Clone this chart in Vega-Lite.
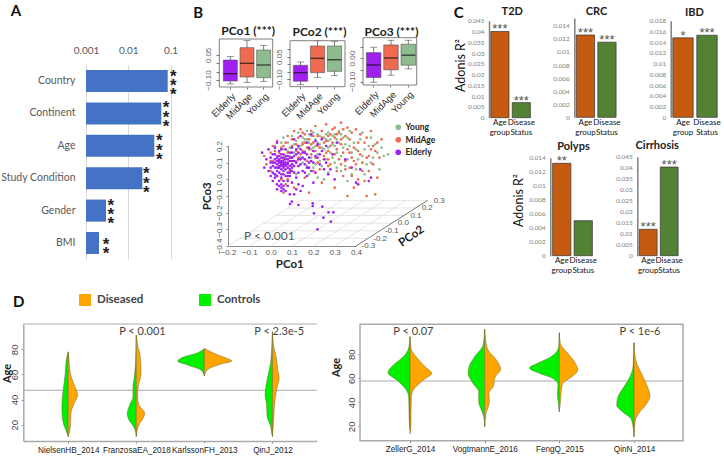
{"$schema":"https://vega.github.io/schema/vega-lite/v6.json","width":724,"height":463,"padding":0,"autosize":{"type":"none"},"background":"white",
"config":{"view":{"stroke":null},"axis":{"ticks":false,"domain":false,"grid":false,"labelFont":"Lato","titleFont":"Lato","labelOverlap":false,"labelBound":false,"labelFlush":false,"title":null},"text":{"font":"Lato"}},
"resolve":{"scale":{"x":"independent","y":"independent","color":"independent"},"axis":{"x":"independent","y":"independent"}},
"datasets":{
"variance":[{"factor":"Country","r2":0.0859,"base":0.001},{"factor":"Continent","r2":0.0606,"base":0.001},{"factor":"Age","r2":0.0414,"base":0.001},{"factor":"Study Condition","r2":0.0216,"base":0.001},{"factor":"Gender","r2":0.00297,"base":0.001},{"factor":"BMI","r2":0.00203,"base":0.001}],
"stars":[{"factor":"Country","pos":0.22,"v":0.1165},{"factor":"Country","pos":0.5,"v":0.1165},{"factor":"Country","pos":0.78,"v":0.1165},{"factor":"Continent","pos":1.18,"v":0.0782},{"factor":"Continent","pos":1.48,"v":0.0782},{"factor":"Continent","pos":1.77,"v":0.0782},{"factor":"Age","pos":2.21,"v":0.0543},{"factor":"Age","pos":2.5,"v":0.0543},{"factor":"Age","pos":2.78,"v":0.0543},{"factor":"Study Condition","pos":3.21,"v":0.0267},{"factor":"Study Condition","pos":3.51,"v":0.0267},{"factor":"Study Condition","pos":3.8,"v":0.0267},{"factor":"Gender","pos":4.19,"v":0.00384},{"factor":"Gender","pos":4.48,"v":0.00384},{"factor":"Gender","pos":4.77,"v":0.00384},{"factor":"BMI","pos":5.41,"v":0.00297},{"factor":"BMI","pos":5.69,"v":0.00297}],
"box1":[{"age":"Elderly","wb":-0.124,"q1":-0.106,"med":-0.062,"q3":0.02,"wt":0.04},{"age":"MidAge","wb":-0.114,"q1":-0.082,"med":0.0,"q3":0.094,"wt":0.136},{"age":"Young","wb":-0.108,"q1":-0.086,"med":-0.01,"q3":0.08,"wt":0.108}],
"box2":[{"age":"Elderly","wb":-0.136,"q1":-0.113,"med":-0.056,"q3":-0.007,"wt":0.015},{"age":"MidAge","wb":-0.087,"q1":-0.056,"med":0.039,"q3":0.121,"wt":0.156},{"age":"Young","wb":-0.074,"q1":-0.047,"med":0.03,"q3":0.121,"wt":0.152}],
"box3":[{"age":"Elderly","wb":-0.103,"q1":-0.083,"med":-0.029,"q3":0.024,"wt":0.047},{"age":"MidAge","wb":-0.073,"q1":-0.05,"med":0.001,"q3":0.057,"wt":0.077},{"age":"Young","wb":-0.046,"q1":-0.03,"med":0.013,"q3":0.06,"wt":0.077}],
"frame":[{"a":0,"b":1,"c":0,"d":1}],
"floor":[{"x":-0.2,"y":-0.4,"x2":0.136,"y2":-0.126},{"x":-0.1,"y":-0.4,"x2":0.236,"y2":-0.126},{"x":0.0,"y":-0.4,"x2":0.336,"y2":-0.126},{"x":0.1,"y":-0.4,"x2":0.436,"y2":-0.126},{"x":0.2,"y":-0.4,"x2":0.536,"y2":-0.126},{"x":0.3,"y":-0.4,"x2":0.636,"y2":-0.126},{"x":-0.144,"y":-0.354,"x2":0.456,"y2":-0.354},{"x":-0.088,"y":-0.309,"x2":0.512,"y2":-0.309},{"x":-0.032,"y":-0.263,"x2":0.568,"y2":-0.263},{"x":0.024,"y":-0.217,"x2":0.624,"y2":-0.217},{"x":0.08,"y":-0.172,"x2":0.68,"y2":-0.172},{"x":0.136,"y":-0.126,"x2":0.736,"y2":-0.126}],
"pco2axis":[{"x":0.4,"y":-0.4,"x2":0.736,"y2":-0.126}],
"pco2labels":[{"label":"-0.3","x":0.458,"y":-0.4},{"label":"-0.2","x":0.513,"y":-0.358},{"label":"-0.1","x":0.568,"y":-0.308},{"label":"0.0","x":0.622,"y":-0.262},{"label":"0.1","x":0.681,"y":-0.218},{"label":"0.2","x":0.734,"y":-0.172},{"label":"0.3","x":0.79,"y":-0.129}],
"scatter":[
{"g":"Young","x":0.02,"y":0.2},{"g":"Young","x":0.04,"y":0.17},{"g":"Young","x":0.06,"y":0.25},{"g":"Young","x":0.07,"y":0.13},{"g":"Young","x":0.08,"y":0.22},{"g":"Young","x":0.09,"y":0.19},{"g":"Young","x":0.1,"y":0.26},{"g":"Young","x":0.11,"y":0.16},{"g":"Young","x":0.12,"y":0.23},{"g":"Young","x":0.13,"y":0.28},{"g":"Young","x":0.14,"y":0.2},{"g":"Young","x":0.15,"y":0.25},{"g":"Young","x":0.16,"y":0.17},{"g":"Young","x":0.17,"y":0.29},{"g":"Young","x":0.18,"y":0.22},{"g":"Young","x":0.19,"y":0.26},{"g":"Young","x":0.2,"y":0.19},{"g":"Young","x":0.2,"y":0.28},{"g":"Young","x":0.21,"y":0.24},{"g":"Young","x":0.22,"y":0.15},{"g":"Young","x":0.22,"y":0.27},{"g":"Young","x":0.23,"y":0.21},{"g":"Young","x":0.24,"y":0.29},{"g":"Young","x":0.25,"y":0.25},{"g":"Young","x":0.25,"y":0.18},{"g":"Young","x":0.26,"y":0.12},{"g":"Young","x":0.27,"y":0.23},{"g":"Young","x":0.27,"y":0.28},{"g":"Young","x":0.28,"y":0.16},{"g":"Young","x":0.29,"y":0.26},{"g":"Young","x":0.3,"y":0.2},{"g":"Young","x":0.3,"y":0.1},{"g":"Young","x":0.31,"y":0.24},{"g":"Young","x":0.32,"y":0.29},{"g":"Young","x":0.33,"y":0.14},{"g":"Young","x":0.34,"y":0.19},{"g":"Young","x":0.35,"y":0.08},{"g":"Young","x":0.36,"y":0.25},{"g":"Young","x":0.37,"y":0.29},{"g":"Young","x":0.38,"y":0.16},{"g":"Young","x":0.39,"y":0.22},{"g":"Young","x":0.4,"y":0.06},{"g":"Young","x":0.41,"y":0.12},{"g":"Young","x":0.42,"y":0.24},{"g":"Young","x":0.43,"y":0.28},{"g":"Young","x":0.44,"y":0.18},{"g":"Young","x":0.45,"y":0.09},{"g":"Young","x":0.46,"y":0.2},{"g":"Young","x":0.47,"y":0.25},{"g":"Young","x":0.48,"y":0.13},{"g":"Young","x":0.49,"y":0.21},{"g":"Young","x":0.5,"y":0.16},{"g":"Young","x":0.51,"y":0.06},{"g":"Young","x":0.52,"y":0.19},{"g":"Young","x":0.53,"y":0.14},{"g":"Young","x":0.55,"y":0.15},{"g":"Young","x":0.2,"y":0.07},{"g":"Young","x":0.22,"y":0.01},{"g":"Young","x":0.25,"y":0.0},{"g":"Young","x":0.18,"y":0.03},{"g":"Young","x":0.27,"y":0.04},{"g":"Young","x":0.33,"y":0.05},{"g":"Young","x":0.36,"y":-0.01},{"g":"Young","x":0.29,"y":0.13},{"g":"Young","x":0.15,"y":0.1},{"g":"Young","x":0.1,"y":0.09},{"g":"Young","x":0.03,"y":0.11},{"g":"Young","x":0.12,"y":0.03},{"g":"Young","x":0.23,"y":0.11},{"g":"Young","x":0.31,"y":0.07},{"g":"Young","x":0.38,"y":0.03},{"g":"Young","x":0.44,"y":0.03},{"g":"Young","x":0.16,"y":0.24},{"g":"Young","x":0.26,"y":0.27},{"g":"Young","x":0.33,"y":0.27},{"g":"Young","x":0.35,"y":0.21},{"g":"Young","x":0.19,"y":0.13},{"g":"Young","x":0.24,"y":0.08},
{"g":"Young","x":0.05,"y":0.22},{"g":"Young","x":0.08,"y":0.17},{"g":"Young","x":0.11,"y":0.21},{"g":"Young","x":0.13,"y":0.19},{"g":"Young","x":0.15,"y":0.22},{"g":"Young","x":0.17,"y":0.24},{"g":"Young","x":0.18,"y":0.27},{"g":"Young","x":0.19,"y":0.18},{"g":"Young","x":0.21,"y":0.2},{"g":"Young","x":0.22,"y":0.22},{"g":"Young","x":0.23,"y":0.26},{"g":"Young","x":0.24,"y":0.19},{"g":"Young","x":0.26,"y":0.24},{"g":"Young","x":0.27,"y":0.19},{"g":"Young","x":0.28,"y":0.24},{"g":"Young","x":0.29,"y":0.21},{"g":"Young","x":0.3,"y":0.27},{"g":"Young","x":0.31,"y":0.16},{"g":"Young","x":0.32,"y":0.22},{"g":"Young","x":0.34,"y":0.25},{"g":"Young","x":0.36,"y":0.12},{"g":"Young","x":0.37,"y":0.2},{"g":"Young","x":0.4,"y":0.18},{"g":"Young","x":0.43,"y":0.14},{"g":"Young","x":0.47,"y":0.1},{"g":"Young","x":0.09,"y":0.14},{"g":"Young","x":0.06,"y":0.18},{"g":"Young","x":0.14,"y":0.13},{"g":"Young","x":0.17,"y":0.08},{"g":"Young","x":0.21,"y":0.09},
{"g":"MidAge","x":-0.03,"y":0.14},{"g":"MidAge","x":-0.02,"y":0.09},{"g":"MidAge","x":0.0,"y":0.16},{"g":"MidAge","x":0.0,"y":0.05},{"g":"MidAge","x":0.01,"y":0.2},{"g":"MidAge","x":0.01,"y":0.11},{"g":"MidAge","x":0.02,"y":0.03},{"g":"MidAge","x":0.03,"y":0.23},{"g":"MidAge","x":0.03,"y":0.14},{"g":"MidAge","x":0.04,"y":0.07},{"g":"MidAge","x":0.05,"y":0.19},{"g":"MidAge","x":0.05,"y":0.0},{"g":"MidAge","x":0.06,"y":0.12},{"g":"MidAge","x":0.07,"y":0.22},{"g":"MidAge","x":0.07,"y":-0.03},{"g":"MidAge","x":0.08,"y":0.16},{"g":"MidAge","x":0.08,"y":0.26},{"g":"MidAge","x":0.09,"y":0.05},{"g":"MidAge","x":0.1,"y":0.2},{"g":"MidAge","x":0.1,"y":0.13},{"g":"MidAge","x":0.11,"y":0.29},{"g":"MidAge","x":0.11,"y":-0.05},{"g":"MidAge","x":0.12,"y":0.17},{"g":"MidAge","x":0.13,"y":0.25},{"g":"MidAge","x":0.13,"y":0.08},{"g":"MidAge","x":0.14,"y":0.3},{"g":"MidAge","x":0.14,"y":0.15},{"g":"MidAge","x":0.15,"y":0.21},{"g":"MidAge","x":0.16,"y":0.27},{"g":"MidAge","x":0.16,"y":0.01},{"g":"MidAge","x":0.17,"y":0.19},{"g":"MidAge","x":0.17,"y":0.11},{"g":"MidAge","x":0.18,"y":0.24},{"g":"MidAge","x":0.19,"y":0.29},{"g":"MidAge","x":0.19,"y":0.15},{"g":"MidAge","x":0.2,"y":0.22},{"g":"MidAge","x":0.21,"y":0.17},{"g":"MidAge","x":0.21,"y":0.32},{"g":"MidAge","x":0.22,"y":0.26},{"g":"MidAge","x":0.23,"y":0.19},{"g":"MidAge","x":0.23,"y":0.06},{"g":"MidAge","x":0.24,"y":0.29},{"g":"MidAge","x":0.25,"y":0.22},{"g":"MidAge","x":0.26,"y":0.16},{"g":"MidAge","x":0.26,"y":0.33},{"g":"MidAge","x":0.27,"y":0.26},{"g":"MidAge","x":0.28,"y":0.2},{"g":"MidAge","x":0.28,"y":0.09},{"g":"MidAge","x":0.29,"y":0.3},{"g":"MidAge","x":0.3,"y":0.25},{"g":"MidAge","x":0.3,"y":0.15},{"g":"MidAge","x":0.31,"y":0.18},{"g":"MidAge","x":0.31,"y":0.05},{"g":"MidAge","x":0.32,"y":0.28},{"g":"MidAge","x":0.32,"y":0.12},{"g":"MidAge","x":0.33,"y":0.21},{"g":"MidAge","x":0.33,"y":0.34},{"g":"MidAge","x":0.34,"y":0.16},{"g":"MidAge","x":0.34,"y":0.02},{"g":"MidAge","x":0.35,"y":0.26},{"g":"MidAge","x":0.35,"y":0.11},{"g":"MidAge","x":0.36,"y":0.31},{"g":"MidAge","x":0.36,"y":0.18},{"g":"MidAge","x":0.37,"y":0.07},{"g":"MidAge","x":0.37,"y":0.24},{"g":"MidAge","x":0.38,"y":0.13},{"g":"MidAge","x":0.38,"y":0.28},{"g":"MidAge","x":0.39,"y":0.19},{"g":"MidAge","x":0.39,"y":-0.05},{"g":"MidAge","x":0.4,"y":0.3},{"g":"MidAge","x":0.4,"y":0.09},{"g":"MidAge","x":0.41,"y":0.22},{"g":"MidAge","x":0.41,"y":0.0},{"g":"MidAge","x":0.42,"y":0.15},{"g":"MidAge","x":0.42,"y":0.27},{"g":"MidAge","x":0.43,"y":0.1},{"g":"MidAge","x":0.44,"y":0.22},{"g":"MidAge","x":0.44,"y":-0.01},{"g":"MidAge","x":0.45,"y":0.25},{"g":"MidAge","x":0.45,"y":0.13},{"g":"MidAge","x":0.46,"y":0.05},{"g":"MidAge","x":0.47,"y":0.18},{"g":"MidAge","x":0.47,"y":0.29},{"g":"MidAge","x":0.48,"y":0.09},{"g":"MidAge","x":0.49,"y":0.17},{"g":"MidAge","x":0.49,"y":-0.09},{"g":"MidAge","x":0.5,"y":0.22},{"g":"MidAge","x":0.5,"y":0.01},{"g":"MidAge","x":0.51,"y":0.13},{"g":"MidAge","x":0.52,"y":0.24},{"g":"MidAge","x":0.45,"y":-0.1},{"g":"MidAge","x":0.36,"y":-0.1},{"g":"MidAge","x":0.3,"y":-0.05},{"g":"MidAge","x":0.24,"y":-0.02},{"g":"MidAge","x":0.18,"y":-0.08},{"g":"MidAge","x":0.06,"y":-0.08},{"g":"MidAge","x":0.27,"y":0.12},{"g":"MidAge","x":0.22,"y":0.1},
{"g":"MidAge","x":0.04,"y":0.16},{"g":"MidAge","x":0.06,"y":0.2},{"g":"MidAge","x":0.09,"y":0.11},{"g":"MidAge","x":0.1,"y":0.24},{"g":"MidAge","x":0.12,"y":0.21},{"g":"MidAge","x":0.13,"y":0.13},{"g":"MidAge","x":0.15,"y":0.17},{"g":"MidAge","x":0.16,"y":0.22},{"g":"MidAge","x":0.18,"y":0.18},{"g":"MidAge","x":0.19,"y":0.21},{"g":"MidAge","x":0.2,"y":0.26},{"g":"MidAge","x":0.21,"y":0.13},{"g":"MidAge","x":0.22,"y":0.2},{"g":"MidAge","x":0.24,"y":0.25},{"g":"MidAge","x":0.25,"y":0.14},{"g":"MidAge","x":0.26,"y":0.23},{"g":"MidAge","x":0.27,"y":0.17},{"g":"MidAge","x":0.28,"y":0.27},{"g":"MidAge","x":0.29,"y":0.22},{"g":"MidAge","x":0.3,"y":0.31},{"g":"MidAge","x":0.31,"y":0.27},{"g":"MidAge","x":0.33,"y":0.24},{"g":"MidAge","x":0.34,"y":0.3},{"g":"MidAge","x":0.35,"y":0.06},{"g":"MidAge","x":0.37,"y":0.16},{"g":"MidAge","x":0.39,"y":0.11},{"g":"MidAge","x":0.41,"y":0.17},{"g":"MidAge","x":0.43,"y":0.05},{"g":"MidAge","x":0.46,"y":0.14},{"g":"MidAge","x":0.48,"y":0.2},{"g":"MidAge","x":0.02,"y":0.17},{"g":"MidAge","x":0.0,"y":0.11},{"g":"MidAge","x":0.03,"y":0.02},{"g":"MidAge","x":0.08,"y":0.0},{"g":"MidAge","x":0.12,"y":0.11},{"g":"MidAge","x":0.15,"y":0.28},{"g":"MidAge","x":0.2,"y":0.05},{"g":"MidAge","x":0.27,"y":0.08},{"g":"MidAge","x":0.33,"y":0.09},{"g":"MidAge","x":0.38,"y":0.02},
{"g":"Elderly","x":0.01,"y":0.1},{"g":"Elderly","x":0.02,"y":0.07},{"g":"Elderly","x":0.02,"y":0.12},{"g":"Elderly","x":0.03,"y":0.09},{"g":"Elderly","x":0.03,"y":0.05},{"g":"Elderly","x":0.03,"y":0.13},{"g":"Elderly","x":0.04,"y":0.1},{"g":"Elderly","x":0.04,"y":0.07},{"g":"Elderly","x":0.04,"y":0.14},{"g":"Elderly","x":0.05,"y":0.09},{"g":"Elderly","x":0.05,"y":0.06},{"g":"Elderly","x":0.05,"y":0.11},{"g":"Elderly","x":0.05,"y":0.03},{"g":"Elderly","x":0.05,"y":0.15},{"g":"Elderly","x":0.06,"y":0.08},{"g":"Elderly","x":0.06,"y":0.1},{"g":"Elderly","x":0.06,"y":0.05},{"g":"Elderly","x":0.06,"y":0.13},{"g":"Elderly","x":0.07,"y":0.09},{"g":"Elderly","x":0.07,"y":0.12},{"g":"Elderly","x":0.07,"y":0.06},{"g":"Elderly","x":0.07,"y":0.02},{"g":"Elderly","x":0.08,"y":0.1},{"g":"Elderly","x":0.08,"y":0.07},{"g":"Elderly","x":0.08,"y":0.14},{"g":"Elderly","x":0.08,"y":0.04},{"g":"Elderly","x":0.09,"y":0.11},{"g":"Elderly","x":0.09,"y":0.08},{"g":"Elderly","x":0.09,"y":0.16},{"g":"Elderly","x":0.1,"y":0.05},{"g":"Elderly","x":0.1,"y":0.13},{"g":"Elderly","x":0.1,"y":0.09},{"g":"Elderly","x":0.04,"y":0.08},{"g":"Elderly","x":0.05,"y":0.08},{"g":"Elderly","x":0.06,"y":0.07},{"g":"Elderly","x":0.05,"y":0.1},{"g":"Elderly","x":0.06,"y":0.09},{"g":"Elderly","x":0.04,"y":0.11},{"g":"Elderly","x":0.07,"y":0.1},{"g":"Elderly","x":0.03,"y":0.07},
{"g":"Elderly","x":-0.04,"y":0.16},{"g":"Elderly","x":-0.03,"y":0.07},{"g":"Elderly","x":-0.02,"y":0.12},{"g":"Elderly","x":-0.01,"y":0.05},{"g":"Elderly","x":-0.01,"y":0.18},{"g":"Elderly","x":0.0,"y":0.02},{"g":"Elderly","x":0.0,"y":0.1},{"g":"Elderly","x":0.01,"y":0.15},{"g":"Elderly","x":0.01,"y":-0.01},{"g":"Elderly","x":0.02,"y":0.03},{"g":"Elderly","x":0.02,"y":0.19},{"g":"Elderly","x":0.03,"y":-0.03},{"g":"Elderly","x":0.03,"y":0.22},{"g":"Elderly","x":0.04,"y":-0.01},{"g":"Elderly","x":0.05,"y":-0.05},{"g":"Elderly","x":0.06,"y":-0.04},{"g":"Elderly","x":0.04,"y":-0.04},{"g":"Elderly","x":0.05,"y":-0.03},{"g":"Elderly","x":0.07,"y":-0.07},{"g":"Elderly","x":0.08,"y":-0.01},{"g":"Elderly","x":0.09,"y":-0.09},{"g":"Elderly","x":0.09,"y":0.02},{"g":"Elderly","x":0.1,"y":0.19},{"g":"Elderly","x":0.11,"y":0.24},{"g":"Elderly","x":0.11,"y":0.11},{"g":"Elderly","x":0.12,"y":0.01},{"g":"Elderly","x":0.12,"y":0.15},{"g":"Elderly","x":0.12,"y":-0.06},{"g":"Elderly","x":0.13,"y":0.08},{"g":"Elderly","x":0.13,"y":0.2},{"g":"Elderly","x":0.14,"y":0.26},{"g":"Elderly","x":0.14,"y":0.12},{"g":"Elderly","x":0.15,"y":0.05},{"g":"Elderly","x":0.15,"y":-0.04},{"g":"Elderly","x":0.16,"y":0.09},{"g":"Elderly","x":0.16,"y":0.16},{"g":"Elderly","x":0.17,"y":0.22},{"g":"Elderly","x":0.17,"y":0.02},{"g":"Elderly","x":0.18,"y":0.13},{"g":"Elderly","x":0.18,"y":0.07},{"g":"Elderly","x":0.19,"y":0.27},{"g":"Elderly","x":0.2,"y":0.17},{"g":"Elderly","x":0.2,"y":0.1},{"g":"Elderly","x":0.2,"y":-0.02},{"g":"Elderly","x":0.21,"y":0.04},{"g":"Elderly","x":0.22,"y":0.21},{"g":"Elderly","x":0.22,"y":0.13},{"g":"Elderly","x":0.23,"y":0.09},{"g":"Elderly","x":0.24,"y":0.17},{"g":"Elderly","x":0.25,"y":0.12},{"g":"Elderly","x":0.26,"y":0.2},{"g":"Elderly","x":0.27,"y":0.03},{"g":"Elderly","x":0.28,"y":0.06},{"g":"Elderly","x":0.29,"y":0.15},{"g":"Elderly","x":0.3,"y":0.0},{"g":"Elderly","x":0.31,"y":0.22},{"g":"Elderly","x":0.35,"y":0.12},{"g":"Elderly","x":0.38,"y":0.07},{"g":"Elderly","x":0.42,"y":0.06},{"g":"Elderly","x":0.47,"y":0.01},{"g":"Elderly","x":0.46,"y":-0.01},{"g":"Elderly","x":0.4,"y":-0.02},{"g":"Elderly","x":0.41,"y":-0.03},
{"g":"Elderly","x":0.0,"y":0.07},{"g":"Elderly","x":0.0,"y":0.13},{"g":"Elderly","x":0.01,"y":0.04},{"g":"Elderly","x":0.01,"y":0.08},{"g":"Elderly","x":0.02,"y":0.1},{"g":"Elderly","x":0.02,"y":0.15},{"g":"Elderly","x":0.02,"y":0.01},{"g":"Elderly","x":0.03,"y":0.11},{"g":"Elderly","x":0.03,"y":0.02},{"g":"Elderly","x":0.04,"y":0.04},{"g":"Elderly","x":0.04,"y":0.12},{"g":"Elderly","x":0.04,"y":0.17},{"g":"Elderly","x":0.05,"y":0.13},{"g":"Elderly","x":0.05,"y":0.01},{"g":"Elderly","x":0.05,"y":0.18},{"g":"Elderly","x":0.06,"y":0.11},{"g":"Elderly","x":0.06,"y":0.03},{"g":"Elderly","x":0.06,"y":0.15},{"g":"Elderly","x":0.07,"y":0.08},{"g":"Elderly","x":0.07,"y":0.14},{"g":"Elderly","x":0.07,"y":0.18},{"g":"Elderly","x":0.08,"y":0.12},{"g":"Elderly","x":0.08,"y":0.09},{"g":"Elderly","x":0.08,"y":0.02},{"g":"Elderly","x":0.09,"y":0.06},{"g":"Elderly","x":0.09,"y":0.13},{"g":"Elderly","x":0.09,"y":0.04},{"g":"Elderly","x":0.1,"y":0.11},{"g":"Elderly","x":0.1,"y":0.07},{"g":"Elderly","x":0.1,"y":0.16},{"g":"Elderly","x":0.11,"y":0.14},{"g":"Elderly","x":0.11,"y":0.08},{"g":"Elderly","x":0.11,"y":0.04},{"g":"Elderly","x":0.12,"y":0.1},{"g":"Elderly","x":0.12,"y":0.18},{"g":"Elderly","x":0.13,"y":0.12},{"g":"Elderly","x":0.13,"y":0.16},{"g":"Elderly","x":0.13,"y":0.04},{"g":"Elderly","x":0.14,"y":0.09},{"g":"Elderly","x":0.14,"y":0.18},{"g":"Elderly","x":0.15,"y":0.13},{"g":"Elderly","x":0.15,"y":0.16},{"g":"Elderly","x":0.16,"y":0.12},{"g":"Elderly","x":0.16,"y":0.04},{"g":"Elderly","x":0.17,"y":0.15},{"g":"Elderly","x":0.17,"y":0.07},{"g":"Elderly","x":0.18,"y":0.1},{"g":"Elderly","x":0.18,"y":0.19},{"g":"Elderly","x":0.19,"y":0.05},{"g":"Elderly","x":0.19,"y":0.11},{"g":"Elderly","x":0.21,"y":0.14},{"g":"Elderly","x":0.21,"y":0.23},{"g":"Elderly","x":0.23,"y":0.15},{"g":"Elderly","x":0.24,"y":0.24},{"g":"Elderly","x":0.25,"y":0.06},{"g":"Elderly","x":0.26,"y":0.1},{"g":"Elderly","x":0.06,"y":-0.01},{"g":"Elderly","x":0.08,"y":-0.04},{"g":"Elderly","x":0.03,"y":-0.06},{"g":"Elderly","x":0.05,"y":-0.07},{"g":"Elderly","x":0.06,"y":-0.06},{"g":"Elderly","x":0.1,"y":-0.02},{"g":"Elderly","x":0.11,"y":-0.09},{"g":"Elderly","x":0.13,"y":-0.03},{"g":"Elderly","x":0.14,"y":-0.07},
{"g":"Elderly","x":0.099,"y":-0.134},{"g":"Elderly","x":0.091,"y":-0.148},{"g":"Elderly","x":0.13,"y":-0.154},{"g":"Elderly","x":0.197,"y":-0.144},{"g":"Elderly","x":0.197,"y":-0.16},{"g":"Elderly","x":0.242,"y":-0.164},{"g":"Elderly","x":0.203,"y":-0.204},{"g":"Elderly","x":0.271,"y":-0.198},{"g":"Elderly","x":0.294,"y":-0.198},{"g":"Elderly","x":0.247,"y":-0.23},{"g":"Elderly","x":0.282,"y":-0.254},{"g":"Elderly","x":0.219,"y":-0.3}],
"violinL":[
{"study":"NielsenHB_2014","group":"Controls","i":0,"age":78,"x":0},{"study":"NielsenHB_2014","group":"Controls","i":0,"age":71.5,"x":-0.029},{"study":"NielsenHB_2014","group":"Controls","i":0,"age":60.8,"x":-0.044},{"study":"NielsenHB_2014","group":"Controls","i":0,"age":47.6,"x":-0.074},{"study":"NielsenHB_2014","group":"Controls","i":0,"age":34.3,"x":-0.093},{"study":"NielsenHB_2014","group":"Controls","i":0,"age":26.4,"x":-0.088},{"study":"NielsenHB_2014","group":"Controls","i":0,"age":19.7,"x":-0.064},{"study":"NielsenHB_2014","group":"Controls","i":0,"age":14.4,"x":-0.025},{"study":"NielsenHB_2014","group":"Controls","i":0,"age":10.5,"x":0},
{"study":"NielsenHB_2014","group":"Diseased","i":0,"age":78,"x":0},{"study":"NielsenHB_2014","group":"Diseased","i":0,"age":68.8,"x":0.015},{"study":"NielsenHB_2014","group":"Diseased","i":0,"age":58.2,"x":0.044},{"study":"NielsenHB_2014","group":"Diseased","i":0,"age":50.2,"x":0.098},{"study":"NielsenHB_2014","group":"Diseased","i":0,"age":43.6,"x":0.137},{"study":"NielsenHB_2014","group":"Diseased","i":0,"age":37,"x":0.088},{"study":"NielsenHB_2014","group":"Diseased","i":0,"age":29,"x":0.039},{"study":"NielsenHB_2014","group":"Diseased","i":0,"age":21,"x":0.034},{"study":"NielsenHB_2014","group":"Diseased","i":0,"age":14.4,"x":0.02},{"study":"NielsenHB_2014","group":"Diseased","i":0,"age":10.5,"x":0},
{"study":"FranzosaEA_2018","group":"Controls","i":1,"age":91.4,"x":1},{"study":"FranzosaEA_2018","group":"Controls","i":1,"age":79.4,"x":0.995},{"study":"FranzosaEA_2018","group":"Controls","i":1,"age":66.2,"x":0.985},{"study":"FranzosaEA_2018","group":"Controls","i":1,"age":58.2,"x":0.971},{"study":"FranzosaEA_2018","group":"Controls","i":1,"age":50.2,"x":0.951},{"study":"FranzosaEA_2018","group":"Controls","i":1,"age":42.3,"x":0.951},{"study":"FranzosaEA_2018","group":"Controls","i":1,"age":35.6,"x":0.902},{"study":"FranzosaEA_2018","group":"Controls","i":1,"age":29,"x":0.868},{"study":"FranzosaEA_2018","group":"Controls","i":1,"age":23.7,"x":0.892},{"study":"FranzosaEA_2018","group":"Controls","i":1,"age":18.4,"x":0.961},{"study":"FranzosaEA_2018","group":"Controls","i":1,"age":14.4,"x":0.99},{"study":"FranzosaEA_2018","group":"Controls","i":1,"age":10.5,"x":1},
{"study":"FranzosaEA_2018","group":"Diseased","i":1,"age":91.4,"x":1},{"study":"FranzosaEA_2018","group":"Diseased","i":1,"age":82,"x":1.025},{"study":"FranzosaEA_2018","group":"Diseased","i":1,"age":74.1,"x":1.059},{"study":"FranzosaEA_2018","group":"Diseased","i":1,"age":60.8,"x":1.069},{"study":"FranzosaEA_2018","group":"Diseased","i":1,"age":50.2,"x":1.029},{"study":"FranzosaEA_2018","group":"Diseased","i":1,"age":42.3,"x":1.02},{"study":"FranzosaEA_2018","group":"Diseased","i":1,"age":35.6,"x":1.039},{"study":"FranzosaEA_2018","group":"Diseased","i":1,"age":29,"x":1.123},{"study":"FranzosaEA_2018","group":"Diseased","i":1,"age":25,"x":1.098},{"study":"FranzosaEA_2018","group":"Diseased","i":1,"age":21,"x":1.049},{"study":"FranzosaEA_2018","group":"Diseased","i":1,"age":15.8,"x":1.015},{"study":"FranzosaEA_2018","group":"Diseased","i":1,"age":10.5,"x":1},
{"study":"KarlssonFH_2013","group":"Controls","i":2,"age":80.7,"x":2},{"study":"KarlssonFH_2013","group":"Controls","i":2,"age":76.8,"x":1.877},{"study":"KarlssonFH_2013","group":"Controls","i":2,"age":74.1,"x":1.706},{"study":"KarlssonFH_2013","group":"Controls","i":2,"age":70.7,"x":1.608},{"study":"KarlssonFH_2013","group":"Controls","i":2,"age":67.5,"x":1.755},{"study":"KarlssonFH_2013","group":"Controls","i":2,"age":63.5,"x":1.951},{"study":"KarlssonFH_2013","group":"Controls","i":2,"age":58.7,"x":2},
{"study":"KarlssonFH_2013","group":"Diseased","i":2,"age":80.7,"x":2},{"study":"KarlssonFH_2013","group":"Diseased","i":2,"age":76.8,"x":2.147},{"study":"KarlssonFH_2013","group":"Diseased","i":2,"age":74.1,"x":2.27},{"study":"KarlssonFH_2013","group":"Diseased","i":2,"age":70.7,"x":2.402},{"study":"KarlssonFH_2013","group":"Diseased","i":2,"age":68.3,"x":2.245},{"study":"KarlssonFH_2013","group":"Diseased","i":2,"age":63.5,"x":2.039},{"study":"KarlssonFH_2013","group":"Diseased","i":2,"age":58.7,"x":2},
{"study":"QinJ_2012","group":"Controls","i":3,"age":94,"x":3},{"study":"QinJ_2012","group":"Controls","i":3,"age":82,"x":2.99},{"study":"QinJ_2012","group":"Controls","i":3,"age":68.8,"x":2.971},{"study":"QinJ_2012","group":"Controls","i":3,"age":58.2,"x":2.931},{"study":"QinJ_2012","group":"Controls","i":3,"age":43.6,"x":2.892},{"study":"QinJ_2012","group":"Controls","i":3,"age":37,"x":2.912},{"study":"QinJ_2012","group":"Controls","i":3,"age":26.4,"x":2.922},{"study":"QinJ_2012","group":"Controls","i":3,"age":18.4,"x":2.975},{"study":"QinJ_2012","group":"Controls","i":3,"age":14.4,"x":2.985},{"study":"QinJ_2012","group":"Controls","i":3,"age":10.5,"x":3},
{"study":"QinJ_2012","group":"Diseased","i":3,"age":94,"x":3},{"study":"QinJ_2012","group":"Diseased","i":3,"age":82,"x":3.02},{"study":"QinJ_2012","group":"Diseased","i":3,"age":74.1,"x":3.054},{"study":"QinJ_2012","group":"Diseased","i":3,"age":64.8,"x":3.074},{"study":"QinJ_2012","group":"Diseased","i":3,"age":56.9,"x":3.098},{"study":"QinJ_2012","group":"Diseased","i":3,"age":47.6,"x":3.059},{"study":"QinJ_2012","group":"Diseased","i":3,"age":34.3,"x":3.029},{"study":"QinJ_2012","group":"Diseased","i":3,"age":21,"x":3.015},{"study":"QinJ_2012","group":"Diseased","i":3,"age":10.5,"x":3}],
"violinR":[
{"study":"ZellerG_2014","group":"Controls","i":0,"age":94.7,"x":0},{"study":"ZellerG_2014","group":"Controls","i":0,"age":86.4,"x":-0.013},{"study":"ZellerG_2014","group":"Controls","i":0,"age":78,"x":-0.089},{"study":"ZellerG_2014","group":"Controls","i":0,"age":71.1,"x":-0.223},{"study":"ZellerG_2014","group":"Controls","i":0,"age":64.7,"x":-0.295},{"study":"ZellerG_2014","group":"Controls","i":0,"age":58.6,"x":-0.179},{"study":"ZellerG_2014","group":"Controls","i":0,"age":51.7,"x":-0.067},{"study":"ZellerG_2014","group":"Controls","i":0,"age":44.7,"x":-0.018},{"study":"ZellerG_2014","group":"Controls","i":0,"age":30.8,"x":-0.013},{"study":"ZellerG_2014","group":"Controls","i":0,"age":22.5,"x":-0.009},{"study":"ZellerG_2014","group":"Controls","i":0,"age":16.9,"x":0},
{"study":"ZellerG_2014","group":"Diseased","i":0,"age":94.7,"x":0},{"study":"ZellerG_2014","group":"Diseased","i":0,"age":85,"x":0.013},{"study":"ZellerG_2014","group":"Diseased","i":0,"age":76.7,"x":0.098},{"study":"ZellerG_2014","group":"Diseased","i":0,"age":69.7,"x":0.201},{"study":"ZellerG_2014","group":"Diseased","i":0,"age":64.2,"x":0.29},{"study":"ZellerG_2014","group":"Diseased","i":0,"age":58.6,"x":0.179},{"study":"ZellerG_2014","group":"Diseased","i":0,"age":50.3,"x":0.045},{"study":"ZellerG_2014","group":"Diseased","i":0,"age":44.7,"x":0.018},{"study":"ZellerG_2014","group":"Diseased","i":0,"age":30.8,"x":0.013},{"study":"ZellerG_2014","group":"Diseased","i":0,"age":22.5,"x":0.013},{"study":"ZellerG_2014","group":"Diseased","i":0,"age":13.6,"x":0},
{"study":"VogtmannE_2016","group":"Controls","i":1,"age":100.8,"x":1},{"study":"VogtmannE_2016","group":"Controls","i":1,"age":87.8,"x":0.978},{"study":"VogtmannE_2016","group":"Controls","i":1,"age":78,"x":0.866},{"study":"VogtmannE_2016","group":"Controls","i":1,"age":71.1,"x":0.799},{"study":"VogtmannE_2016","group":"Controls","i":1,"age":64.2,"x":0.777},{"study":"VogtmannE_2016","group":"Controls","i":1,"age":55.8,"x":0.844},{"study":"VogtmannE_2016","group":"Controls","i":1,"age":48.9,"x":0.92},{"study":"VogtmannE_2016","group":"Controls","i":1,"age":40.6,"x":0.92},{"study":"VogtmannE_2016","group":"Controls","i":1,"age":33.6,"x":0.955},{"study":"VogtmannE_2016","group":"Controls","i":1,"age":28,"x":0.987},{"study":"VogtmannE_2016","group":"Controls","i":1,"age":19.7,"x":1},
{"study":"VogtmannE_2016","group":"Diseased","i":1,"age":100.8,"x":1},{"study":"VogtmannE_2016","group":"Diseased","i":1,"age":91.9,"x":1.013},{"study":"VogtmannE_2016","group":"Diseased","i":1,"age":83.6,"x":1.045},{"study":"VogtmannE_2016","group":"Diseased","i":1,"age":75.3,"x":1.156},{"study":"VogtmannE_2016","group":"Diseased","i":1,"age":67.5,"x":1.214},{"study":"VogtmannE_2016","group":"Diseased","i":1,"age":61.4,"x":1.143},{"study":"VogtmannE_2016","group":"Diseased","i":1,"age":53,"x":1.112},{"study":"VogtmannE_2016","group":"Diseased","i":1,"age":47.5,"x":1.054},{"study":"VogtmannE_2016","group":"Diseased","i":1,"age":41.9,"x":1.063},{"study":"VogtmannE_2016","group":"Diseased","i":1,"age":37.8,"x":1.054},{"study":"VogtmannE_2016","group":"Diseased","i":1,"age":30.8,"x":1.018},{"study":"VogtmannE_2016","group":"Diseased","i":1,"age":19.7,"x":1},
{"study":"FengQ_2015","group":"Controls","i":2,"age":98,"x":2},{"study":"FengQ_2015","group":"Controls","i":2,"age":86.4,"x":1.991},{"study":"FengQ_2015","group":"Controls","i":2,"age":78,"x":1.888},{"study":"FengQ_2015","group":"Controls","i":2,"age":72.5,"x":1.71},{"study":"FengQ_2015","group":"Controls","i":2,"age":68.6,"x":1.598},{"study":"FengQ_2015","group":"Controls","i":2,"age":64.2,"x":1.732},{"study":"FengQ_2015","group":"Controls","i":2,"age":60,"x":1.911},{"study":"FengQ_2015","group":"Controls","i":2,"age":54.4,"x":1.982},{"study":"FengQ_2015","group":"Controls","i":2,"age":47.5,"x":1.973},{"study":"FengQ_2015","group":"Controls","i":2,"age":39.2,"x":1.987},{"study":"FengQ_2015","group":"Controls","i":2,"age":32.2,"x":2},
{"study":"FengQ_2015","group":"Diseased","i":2,"age":98,"x":2},{"study":"FengQ_2015","group":"Diseased","i":2,"age":89.2,"x":2.013},{"study":"FengQ_2015","group":"Diseased","i":2,"age":80.8,"x":2.112},{"study":"FengQ_2015","group":"Diseased","i":2,"age":73.9,"x":2.201},{"study":"FengQ_2015","group":"Diseased","i":2,"age":66.9,"x":2.246},{"study":"FengQ_2015","group":"Diseased","i":2,"age":61.4,"x":2.17},{"study":"FengQ_2015","group":"Diseased","i":2,"age":55.8,"x":2.045},{"study":"FengQ_2015","group":"Diseased","i":2,"age":47.5,"x":2.022},{"study":"FengQ_2015","group":"Diseased","i":2,"age":39.2,"x":2.013},{"study":"FengQ_2015","group":"Diseased","i":2,"age":32.2,"x":2},
{"study":"QinN_2014","group":"Controls","i":3,"age":89.7,"x":3},{"study":"QinN_2014","group":"Controls","i":3,"age":69.7,"x":2.987},{"study":"QinN_2014","group":"Controls","i":3,"age":61.4,"x":2.946},{"study":"QinN_2014","group":"Controls","i":3,"age":53,"x":2.866},{"study":"QinN_2014","group":"Controls","i":3,"age":44.7,"x":2.786},{"study":"QinN_2014","group":"Controls","i":3,"age":37.8,"x":2.768},{"study":"QinN_2014","group":"Controls","i":3,"age":32.2,"x":2.844},{"study":"QinN_2014","group":"Controls","i":3,"age":26.7,"x":2.955},{"study":"QinN_2014","group":"Controls","i":3,"age":19.7,"x":2.987},{"study":"QinN_2014","group":"Controls","i":3,"age":11.4,"x":3},
{"study":"QinN_2014","group":"Diseased","i":3,"age":89.7,"x":3},{"study":"QinN_2014","group":"Diseased","i":3,"age":75.3,"x":3.022},{"study":"QinN_2014","group":"Diseased","i":3,"age":64.2,"x":3.098},{"study":"QinN_2014","group":"Diseased","i":3,"age":54.4,"x":3.17},{"study":"QinN_2014","group":"Diseased","i":3,"age":45.3,"x":3.214},{"study":"QinN_2014","group":"Diseased","i":3,"age":37.8,"x":3.156},{"study":"QinN_2014","group":"Diseased","i":3,"age":32.2,"x":3.08},{"study":"QinN_2014","group":"Diseased","i":3,"age":25.3,"x":3.018},{"study":"QinN_2014","group":"Diseased","i":3,"age":11.4,"x":3}]
},
"layer":[
{"data":{"name":"variance"},"mark":{"type":"bar","color":"#4472c4"},"encoding":{
"x":{"field":"r2","type":"quantitative","scale":{"type":"log","domain":[0.001,0.1],"range":[86,170.5]},"axis":{"orient":"top","offset":-65,"values":[0.001,0.01,0.1],"format":".3~f","grid":true,"gridColor":"#d9d9d9","gridWidth":1,"labelColor":"#595959","labelFontSize":10,"labelPadding":10,"title":"A","titleFontSize":15,"titleFontWeight":"bold","titleColor":"#111111","titleX":15.5,"titleY":-55,"titleAlign":"center","titleBaseline":"middle","titleAnchor":"middle"}},
"x2":{"field":"base"},
"y":{"field":"factor","type":"nominal","sort":null,"scale":{"range":[64.8,259.2],"paddingInner":0.32,"paddingOuter":0.16},"axis":{"orient":"left","offset":-86,"labelPadding":11,"labelFontSize":10.5,"labelColor":"#595959"}}}},
{"data":{"name":"stars"},"mark":{"type":"text","text":"*","fontSize":17,"font":"Liberation Sans","fontWeight":"bold","baseline":"middle","dy":5,"color":"#222222"},"encoding":{
"x":{"field":"v","type":"quantitative","scale":{"type":"log","domain":[0.001,0.1],"range":[86,170.5]},"axis":null},
"y":{"field":"pos","type":"quantitative","scale":{"domain":[0,6],"range":[64.8,259.2],"nice":false,"zero":false},"axis":null}}},

{"data":{"name":"box1"},"encoding":{"x":{"field":"age","type":"nominal","sort":null,"scale":{"range":[222,272],"paddingInner":0.16,"paddingOuter":0.08},"axis":{"orient":"bottom","offset":-376,"labelAngle":-45,"labelAlign":"right","labelBaseline":"top","labelFont":"Liberation Sans","labelFontSize":9.5,"labelColor":"#333333","labelPadding":2,"ticks":true,"tickSize":2,"tickColor":"#777777","title":"PCo1 (***)","titleFontSize":12,"titleFontWeight":"bold","titleColor":"#222222","titleX":247.7,"titleY":-57,"titleAlign":"center","titleBaseline":"middle","titleAnchor":"middle"}}},
"layer":[
{"mark":{"type":"rule","color":"#444444","strokeWidth":0.7},"encoding":{"y":{"field":"wb","type":"quantitative","scale":{"domain":[-0.142,0.146],"range":[87,39],"nice":false,"zero":false},"axis":{"orient":"left","offset":-219,"values":[0.05,0,-0.05,-0.1],"labelExpr":"abs(datum.value-0.05)<0.001||abs(datum.value+0.1)<0.001?format(datum.value,'.2f'):''","labelAngle":-90,"labelAlign":"center","labelBaseline":"bottom","labelFont":"Liberation Sans","labelFontSize":8,"labelColor":"#666666","labelPadding":4,"ticks":true,"tickSize":3,"tickColor":"#777777","title":"B","titleFontSize":15,"titleFontWeight":"bold","titleColor":"#111111","titleAngle":0,"titleX":-21.3,"titleY":12.7,"titleAlign":"center","titleBaseline":"middle","titleAnchor":"middle"}},"y2":{"field":"wt"}}},
{"mark":{"type":"tick","color":"#444444","size":7,"thickness":0.8},"encoding":{"y":{"field":"wb","type":"quantitative"}}},
{"mark":{"type":"tick","color":"#444444","size":7,"thickness":0.8},"encoding":{"y":{"field":"wt","type":"quantitative"}}},
{"mark":{"type":"bar","stroke":"#555555","strokeWidth":0.6},"encoding":{"y":{"field":"q1","type":"quantitative"},"y2":{"field":"q3"},"color":{"field":"age","type":"nominal","scale":{"domain":["Elderly","MidAge","Young"],"range":["#a020f0","#ee6a50","#8fbc8f"]},"legend":null}}},
{"mark":{"type":"tick","color":"#111111","size":14,"thickness":1.4},"encoding":{"y":{"field":"med","type":"quantitative"}}}
]},
{"data":{"name":"frame"},"mark":{"type":"rect","fill":null,"stroke":"#808080","strokeWidth":1},"encoding":{"x":{"field":"a","type":"quantitative","scale":{"domain":[0,1],"range":[219.3,272.7],"nice":false},"axis":null},"x2":{"field":"b"},"y":{"field":"c","type":"quantitative","scale":{"domain":[0,1],"range":[87,39],"nice":false},"axis":null},"y2":{"field":"d"}}},

{"data":{"name":"box2"},"encoding":{"x":{"field":"age","type":"nominal","sort":null,"scale":{"range":[292,343],"paddingInner":0.16,"paddingOuter":0.08},"axis":{"orient":"bottom","offset":-376.3,"labelAngle":-45,"labelAlign":"right","labelBaseline":"top","labelFont":"Liberation Sans","labelFontSize":9.5,"labelColor":"#333333","labelPadding":2,"ticks":true,"tickSize":2,"tickColor":"#777777","title":"PCo2 (***)","titleFontSize":12,"titleFontWeight":"bold","titleColor":"#222222","titleX":319,"titleY":-55,"titleAlign":"center","titleBaseline":"middle","titleAnchor":"middle"}}},
"layer":[
{"mark":{"type":"rule","color":"#444444","strokeWidth":0.7},"encoding":{"y":{"field":"wb","type":"quantitative","scale":{"domain":[-0.149,0.156],"range":[86.7,40.7],"nice":false,"zero":false},"axis":{"orient":"left","offset":-290,"values":[0.1,0.05,0,-0.05,-0.1],"labelExpr":"abs(datum.value-0.05)<0.001||abs(datum.value+0.1)<0.001?format(datum.value,'.2f'):''","labelAngle":-90,"labelAlign":"center","labelBaseline":"bottom","labelFont":"Liberation Sans","labelFontSize":8,"labelColor":"#666666","labelPadding":4,"ticks":true,"tickSize":3,"tickColor":"#777777"}},"y2":{"field":"wt"}}},
{"mark":{"type":"tick","color":"#444444","size":7,"thickness":0.8},"encoding":{"y":{"field":"wb","type":"quantitative"}}},
{"mark":{"type":"tick","color":"#444444","size":7,"thickness":0.8},"encoding":{"y":{"field":"wt","type":"quantitative"}}},
{"mark":{"type":"bar","stroke":"#555555","strokeWidth":0.6},"encoding":{"y":{"field":"q1","type":"quantitative"},"y2":{"field":"q3"},"color":{"field":"age","type":"nominal","scale":{"domain":["Elderly","MidAge","Young"],"range":["#a020f0","#ee6a50","#8fbc8f"]},"legend":null}}},
{"mark":{"type":"tick","color":"#111111","size":14,"thickness":1.4},"encoding":{"y":{"field":"med","type":"quantitative"}}}
]},
{"data":{"name":"frame"},"mark":{"type":"rect","fill":null,"stroke":"#808080","strokeWidth":1},"encoding":{"x":{"field":"a","type":"quantitative","scale":{"domain":[0,1],"range":[290,345],"nice":false},"axis":null},"x2":{"field":"b"},"y":{"field":"c","type":"quantitative","scale":{"domain":[0,1],"range":[86.7,40.7],"nice":false},"axis":null},"y2":{"field":"d"}}},

{"data":{"name":"box3"},"encoding":{"x":{"field":"age","type":"nominal","sort":null,"scale":{"range":[365,417],"paddingInner":0.16,"paddingOuter":0.08},"axis":{"orient":"bottom","offset":-378,"labelAngle":-45,"labelAlign":"right","labelBaseline":"top","labelFont":"Liberation Sans","labelFontSize":9.5,"labelColor":"#333333","labelPadding":2,"ticks":true,"tickSize":2,"tickColor":"#777777","title":"PCo3 (***)","titleFontSize":12,"titleFontWeight":"bold","titleColor":"#222222","titleX":391,"titleY":-54,"titleAlign":"center","titleBaseline":"middle","titleAnchor":"middle"}}},
"layer":[
{"mark":{"type":"rule","color":"#444444","strokeWidth":0.7},"encoding":{"y":{"field":"wb","type":"quantitative","scale":{"domain":[-0.115,0.088],"range":[85,37.7],"nice":false,"zero":false},"axis":{"orient":"left","offset":-363,"values":[0.05,0,-0.05,-0.1],"labelExpr":"abs(datum.value)<0.001||abs(datum.value+0.1)<0.001?format(datum.value,'.2f'):''","labelAngle":-90,"labelAlign":"center","labelBaseline":"bottom","labelFont":"Liberation Sans","labelFontSize":8,"labelColor":"#666666","labelPadding":4,"ticks":true,"tickSize":3,"tickColor":"#777777"}},"y2":{"field":"wt"}}},
{"mark":{"type":"tick","color":"#444444","size":7,"thickness":0.8},"encoding":{"y":{"field":"wb","type":"quantitative"}}},
{"mark":{"type":"tick","color":"#444444","size":7,"thickness":0.8},"encoding":{"y":{"field":"wt","type":"quantitative"}}},
{"mark":{"type":"bar","stroke":"#555555","strokeWidth":0.6},"encoding":{"y":{"field":"q1","type":"quantitative"},"y2":{"field":"q3"},"color":{"field":"age","type":"nominal","scale":{"domain":["Elderly","MidAge","Young"],"range":["#a020f0","#ee6a50","#8fbc8f"]},"legend":null}}},
{"mark":{"type":"tick","color":"#111111","size":14,"thickness":1.4},"encoding":{"y":{"field":"med","type":"quantitative"}}}
]},
{"data":{"name":"frame"},"mark":{"type":"rect","fill":null,"stroke":"#808080","strokeWidth":1},"encoding":{"x":{"field":"a","type":"quantitative","scale":{"domain":[0,1],"range":[363,416.7],"nice":false},"axis":null},"x2":{"field":"b"},"y":{"field":"c","type":"quantitative","scale":{"domain":[0,1],"range":[85,37.7],"nice":false},"axis":null},"y2":{"field":"d"}}},

{"layer":[
{"data":{"name":"floor"},"mark":{"type":"rule","color":"#dddddd","strokeWidth":0.8},"encoding":{
"x":{"field":"x","type":"quantitative","scale":{"domain":[-0.2,0.4],"range":[228,356],"nice":false,"zero":false},"axis":{"orient":"bottom","offset":-217,"domain":true,"domainColor":"#888888","values":[-0.2,-0.1,0,0.1,0.2,0.3,0.4],"format":".1f","labelFont":"Liberation Sans","labelFontSize":8,"labelColor":"#555555","labelPadding":2,"title":"PCo1","titleFontSize":11.5,"titleFontWeight":"bold","titleColor":"#222222","titleX":289.3,"titleY":18,"titleAlign":"center","titleBaseline":"middle","titleAnchor":"middle"}},
"x2":{"field":"x2"},
"y":{"field":"y","type":"quantitative","scale":{"domain":[-0.4,0.2],"range":[246,146],"nice":false,"zero":false},"axis":{"orient":"left","offset":-228,"domain":true,"domainColor":"#888888","ticks":true,"tickSize":2,"tickColor":"#888888","values":[-0.4,-0.3,-0.2,-0.1,0,0.1,0.2],"format":".1f","labelAngle":-90,"labelAlign":"center","labelBaseline":"bottom","labelFont":"Liberation Sans","labelFontSize":8,"labelColor":"#555555","labelPadding":3,"title":"PCo3","titleFontSize":11.5,"titleFontWeight":"bold","titleColor":"#222222","titleAngle":-90,"titleX":-21,"titleY":195.7,"titleAlign":"center","titleBaseline":"middle","titleAnchor":"middle"}},
"y2":{"field":"y2"}}},
{"data":{"name":"pco2axis"},"mark":{"type":"rule","color":"#777777","strokeWidth":1},"encoding":{"x":{"field":"x","type":"quantitative"},"x2":{"field":"x2"},"y":{"field":"y","type":"quantitative"},"y2":{"field":"y2"}}},
{"data":{"name":"scatter"},"mark":{"type":"circle","size":7,"opacity":1},"encoding":{"x":{"field":"x","type":"quantitative"},"y":{"field":"y","type":"quantitative"},"color":{"field":"g","type":"nominal","scale":{"domain":["Young","MidAge","Elderly"],"range":["#8fbc8f","#ee6a50","#a020f0"]},"legend":{"orient":"none","legendX":394,"legendY":123,"title":null,"symbolType":"circle","symbolSize":32,"labelFont":"Lato","labelFontSize":8.5,"labelFontWeight":"bold","labelColor":"#222222","rowPadding":3.5,"labelOffset":3}}}},
{"data":{"name":"pco2labels"},"mark":{"type":"text","font":"Liberation Sans","fontSize":8,"color":"#555555"},"encoding":{"x":{"field":"x","type":"quantitative"},"y":{"field":"y","type":"quantitative"},"text":{"field":"label"}}},
{"data":{"values":[{"label":"PCo2","x":0.661,"y":-0.344}]},"mark":{"type":"text","fontSize":11.5,"fontWeight":"bold","color":"#222222","angle":325},"encoding":{"x":{"field":"x","type":"quantitative"},"y":{"field":"y","type":"quantitative"},"text":{"field":"label"}}},
{"data":{"values":[{"label":"P < 0.001","x":-0.006,"y":-0.338}]},"mark":{"type":"text","fontSize":12,"color":"#555555"},"encoding":{"x":{"field":"x","type":"quantitative"},"y":{"field":"y","type":"quantitative"},"text":{"field":"label"}}}
]},

{"data":{"values":[{"factor":"Age group","r2":0.04,"s":"***"},{"factor":"Disease Status","r2":0.007,"s":"***"}]},
"encoding":{"x":{"field":"factor","type":"nominal","sort":null,"scale":{"range":[489.2,532],"paddingInner":0.15,"paddingOuter":0.075},"axis":{"orient":"bottom","offset":-345.3,"labelAngle":0,"labelAlign":"center","labelBaseline":"top","labelFontSize":8,"labelColor":"#111111","labelPadding":1,"labelExpr":"split(datum.label,' ')","labelLineHeight":10,"title":"T2D","titleFontSize":11,"titleFontWeight":"bold","titleColor":"#222222","titleX":511.7,"titleY":-106.7,"titleAlign":"center","titleBaseline":"middle","titleAnchor":"middle"}},
"y":{"field":"r2","type":"quantitative","scale":{"domain":[0,0.045],"range":[117.7,20.7],"nice":false},"axis":{"orient":"left","offset":-489,"domain":true,"domainColor":"#808080","domainWidth":1.5,"values":[0,0.005,0.01,0.015,0.02,0.025,0.03,0.035,0.04,0.045],"format":".3~f","labelFontSize":6.5,"labelColor":"#808080","labelPadding":5,"title":"Adonis R²","titleFontSize":12.5,"titleFontWeight":"normal","titleColor":"#111111","titleAngle":-90,"titleX":-29,"titleY":65,"titleAlign":"center","titleBaseline":"middle","titleAnchor":"middle"}}},
"layer":[{"mark":{"type":"bar","stroke":"#333333","strokeWidth":0.7},"encoding":{"color":{"field":"factor","type":"nominal","sort":null,"scale":{"domain":["Age group","Disease Status"],"range":["#c55a11","#548235"]},"legend":null}}},
{"mark":{"type":"text","font":"Liberation Sans","fontSize":13,"color":"#555555","baseline":"alphabetic","dy":2},"encoding":{"text":{"field":"s"}}}]},

{"data":{"values":[{"factor":"Age group","r2":0.0126,"s":"***"},{"factor":"Disease Status","r2":0.0115,"s":"***"}]},
"encoding":{"x":{"field":"factor","type":"nominal","sort":null,"scale":{"range":[574.7,617.7],"paddingInner":0.15,"paddingOuter":0.075},"axis":{"orient":"bottom","offset":-345.7,"labelAngle":0,"labelAlign":"center","labelBaseline":"top","labelFontSize":8,"labelColor":"#111111","labelPadding":1,"labelExpr":"split(datum.label,' ')","labelLineHeight":10,"title":"CRC","titleFontSize":11,"titleFontWeight":"bold","titleColor":"#222222","titleX":596,"titleY":-106.3,"titleAlign":"center","titleBaseline":"middle","titleAnchor":"middle"}},
"y":{"field":"r2","type":"quantitative","scale":{"domain":[0,0.0152],"range":[117.3,18],"nice":false},"axis":{"orient":"left","offset":-574.3,"domain":true,"domainColor":"#808080","domainWidth":1.5,"values":[0,0.002,0.004,0.006,0.008,0.01,0.012,0.014],"format":".3~f","labelFontSize":6.5,"labelColor":"#808080","labelPadding":5,"title":"C","titleFontSize":15,"titleFontWeight":"bold","titleColor":"#111111","titleAngle":0,"titleX":-116,"titleY":12.7,"titleAlign":"center","titleBaseline":"middle","titleAnchor":"middle"}}},
"layer":[{"mark":{"type":"bar","stroke":"#333333","strokeWidth":0.7},"encoding":{"color":{"field":"factor","type":"nominal","sort":null,"scale":{"domain":["Age group","Disease Status"],"range":["#c55a11","#548235"]},"legend":null}}},
{"mark":{"type":"text","font":"Liberation Sans","fontSize":13,"color":"#555555","baseline":"alphabetic","dy":2},"encoding":{"text":{"field":"s"}}}]},

{"data":{"values":[{"factor":"Age group","r2":0.0148,"s":"*"},{"factor":"Disease Status","r2":0.0153,"s":"***"}]},
"encoding":{"x":{"field":"factor","type":"nominal","sort":null,"scale":{"range":[671,719],"paddingInner":0.15,"paddingOuter":0.075},"axis":{"orient":"bottom","offset":-345.7,"labelAngle":0,"labelAlign":"center","labelBaseline":"top","labelFontSize":8,"labelColor":"#111111","labelPadding":1,"labelExpr":"split(datum.label,' ')","labelLineHeight":10,"title":"IBD","titleFontSize":11,"titleFontWeight":"bold","titleColor":"#222222","titleX":694,"titleY":-105.3,"titleAlign":"center","titleBaseline":"middle","titleAnchor":"middle"}},
"y":{"field":"r2","type":"quantitative","scale":{"domain":[0,0.018],"range":[117.3,20.7],"nice":false},"axis":{"orient":"left","offset":-670.7,"domain":true,"domainColor":"#808080","domainWidth":1.5,"values":[0,0.002,0.004,0.006,0.008,0.01,0.012,0.014,0.016,0.018],"format":".3~f","labelFontSize":6.5,"labelColor":"#808080","labelPadding":5}}},
"layer":[{"mark":{"type":"bar","stroke":"#333333","strokeWidth":0.7},"encoding":{"color":{"field":"factor","type":"nominal","sort":null,"scale":{"domain":["Age group","Disease Status"],"range":["#c55a11","#548235"]},"legend":null}}},
{"mark":{"type":"text","font":"Liberation Sans","fontSize":13,"color":"#555555","baseline":"alphabetic","dy":2},"encoding":{"text":{"field":"s"}}}]},

{"data":{"values":[{"factor":"Age group","r2":0.0132,"s":"**"},{"factor":"Disease Status","r2":0.005,"s":""}]},
"encoding":{"x":{"field":"factor","type":"nominal","sort":null,"scale":{"range":[551,594],"paddingInner":0.15,"paddingOuter":0.075},"axis":{"orient":"bottom","offset":-207.3,"labelAngle":0,"labelAlign":"center","labelBaseline":"top","labelFontSize":8,"labelColor":"#111111","labelPadding":1,"labelExpr":"split(datum.label,' ')","labelLineHeight":10,"title":"Polyps","titleFontSize":11,"titleFontWeight":"bold","titleColor":"#222222","titleX":573,"titleY":-109,"titleAlign":"center","titleBaseline":"middle","titleAnchor":"middle"}},
"y":{"field":"r2","type":"quantitative","scale":{"domain":[0,0.014],"range":[255.7,157.7],"nice":false},"axis":{"orient":"left","offset":-550.3,"domain":true,"domainColor":"#808080","domainWidth":1.5,"values":[0,0.002,0.004,0.006,0.008,0.01,0.012,0.014],"format":".3~f","labelFontSize":6.5,"labelColor":"#808080","labelPadding":5,"title":"Adonis R²","titleFontSize":12.5,"titleFontWeight":"normal","titleColor":"#111111","titleAngle":-90,"titleX":-32.3,"titleY":200,"titleAlign":"center","titleBaseline":"middle","titleAnchor":"middle"}}},
"layer":[{"mark":{"type":"bar","stroke":"#333333","strokeWidth":0.7},"encoding":{"color":{"field":"factor","type":"nominal","sort":null,"scale":{"domain":["Age group","Disease Status"],"range":["#c55a11","#548235"]},"legend":null}}},
{"mark":{"type":"text","font":"Liberation Sans","fontSize":13,"color":"#555555","baseline":"alphabetic","dy":2},"encoding":{"text":{"field":"s"}}}]},

{"data":{"values":[{"factor":"Age group","r2":0.012,"s":"***"},{"factor":"Disease Status","r2":0.0403,"s":"***"}]},
"encoding":{"x":{"field":"factor","type":"nominal","sort":null,"scale":{"range":[637.7,679.7],"paddingInner":0.15,"paddingOuter":0.075},"axis":{"orient":"bottom","offset":-207.3,"labelAngle":0,"labelAlign":"center","labelBaseline":"top","labelFontSize":8,"labelColor":"#111111","labelPadding":1,"labelExpr":"split(datum.label,' ')","labelLineHeight":10,"title":"Cirrhosis","titleFontSize":11,"titleFontWeight":"bold","titleColor":"#222222","titleX":656.7,"titleY":-110.7,"titleAlign":"center","titleBaseline":"middle","titleAnchor":"middle"}},
"y":{"field":"r2","type":"quantitative","scale":{"domain":[0,0.045],"range":[255.7,156.7],"nice":false},"axis":{"orient":"left","offset":-637.3,"domain":true,"domainColor":"#808080","domainWidth":1.5,"values":[0,0.005,0.01,0.015,0.02,0.025,0.03,0.035,0.04,0.045],"format":".3~f","labelFontSize":6.5,"labelColor":"#808080","labelPadding":5}}},
"layer":[{"mark":{"type":"bar","stroke":"#333333","strokeWidth":0.7},"encoding":{"color":{"field":"factor","type":"nominal","sort":null,"scale":{"domain":["Age group","Disease Status"],"range":["#c55a11","#548235"]},"legend":null}}},
{"mark":{"type":"text","font":"Liberation Sans","fontSize":13,"color":"#555555","baseline":"alphabetic","dy":2},"encoding":{"text":{"field":"s"}}}]},

{"layer":[
{"data":{"values":[{"x":-0.66,"x2":3.65,"age":47.4},{"x":-0.66,"x2":3.65,"age":100.2}]},"mark":{"type":"rule","color":"#aaaaaa","strokeWidth":1},"encoding":{"x":{"field":"x","type":"quantitative","scale":{"domain":[-0.66,3.65],"range":[23.3,316.7],"nice":false,"zero":false}},"x2":{"field":"x2"},"y":{"field":"age","type":"quantitative","scale":{"domain":[7,100.2],"range":[441,324],"nice":false,"zero":false}}}},
{"data":{"name":"violinL"},"mark":{"type":"area","orient":"horizontal","interpolate":"monotone","stroke":"#6b6b2a","strokeWidth":0.5},"encoding":{
"x":{"field":"x","type":"quantitative","scale":{"domain":[-0.66,3.65],"range":[23.3,316.7],"nice":false,"zero":false},"axis":{"orient":"bottom","offset":-22,"domain":true,"domainColor":"#aaaaaa","domainWidth":1.5,"ticks":true,"tickSize":2,"tickColor":"#888888","values":[0,1,2,3],"labelExpr":"['NielsenHB_2014','FranzosaEA_2018','KarlssonFH_2013','QinJ_2012'][datum.value]","labelFont":"Liberation Sans","labelFontSize":8.2,"labelColor":"#222222","labelPadding":3,"title":"D","titleFontSize":15,"titleFontWeight":"bold","titleColor":"#111111","titleX":18.3,"titleY":-140,"titleAlign":"center","titleBaseline":"middle","titleAnchor":"middle"}},
"x2":{"field":"i"},
"y":{"field":"age","type":"quantitative","scale":{"domain":[7,100.2],"range":[441,324],"nice":false,"zero":false},"axis":{"orient":"left","offset":-23.3,"domain":true,"domainColor":"#aaaaaa","domainWidth":1.5,"ticks":true,"tickSize":2,"tickColor":"#888888","values":[20,40,60,80],"labelAngle":-90,"labelAlign":"center","labelBaseline":"bottom","labelFont":"Liberation Sans","labelFontSize":9.5,"labelColor":"#444444","labelPadding":2,"title":"Age","titleFontSize":11,"titleFontWeight":"bold","titleColor":"#222222","titleAngle":-90,"titleX":-16,"titleY":373,"titleAlign":"center","titleBaseline":"middle","titleAnchor":"middle"}},
"detail":{"field":"study"},
"color":{"field":"group","type":"nominal","scale":{"domain":["Diseased","Controls"],"range":["#ffa500","#00f000"]},"legend":{"orient":"none","legendX":79,"legendY":294,"direction":"horizontal","columns":2,"columnPadding":55,"title":null,"symbolType":"square","symbolSize":144,"symbolStrokeWidth":0,"symbolOpacity":1,"labelFont":"Lato","labelFontSize":11.5,"labelFontWeight":"bold","labelColor":"#444444","labelOffset":6}}}},
{"data":{"values":[{"label":"P < 0.001","x":1.09,"age":93.9},{"label":"P < 2.3e-5","x":3.1,"age":93.9}]},"mark":{"type":"text","fontSize":11,"color":"#444444"},"encoding":{"x":{"field":"x","type":"quantitative","scale":{"domain":[-0.66,3.65],"range":[23.3,316.7],"nice":false,"zero":false}},"y":{"field":"age","type":"quantitative","scale":{"domain":[7,100.2],"range":[441,324],"nice":false,"zero":false}},"text":{"field":"label"}}}
]},

{"layer":[
{"data":{"values":[{"x":-0.67,"x2":3.656,"age":57.8}]},"mark":{"type":"rule","color":"#aaaaaa","strokeWidth":1},"encoding":{"x":{"field":"x","type":"quantitative","scale":{"domain":[-0.67,3.656],"range":[360,683],"nice":false,"zero":false}},"x2":{"field":"x2"},"y":{"field":"age","type":"quantitative","scale":{"domain":[8.06,105],"range":[440.7,324.3],"nice":false,"zero":false}}}},
{"data":{"name":"violinR"},"mark":{"type":"area","orient":"horizontal","interpolate":"monotone","stroke":"#6b6b2a","strokeWidth":0.5},"encoding":{
"x":{"field":"x","type":"quantitative","scale":{"domain":[-0.67,3.656],"range":[360,683],"nice":false,"zero":false},"axis":{"orient":"bottom","offset":-22.3,"ticks":true,"tickSize":2,"tickColor":"#888888","values":[0,1,2,3],"labelExpr":"['ZellerG_2014','VogtmannE_2016','FengQ_2015','QinN_2014'][datum.value]","labelFont":"Liberation Sans","labelFontSize":8.2,"labelColor":"#222222","labelPadding":3}},
"x2":{"field":"i"},
"y":{"field":"age","type":"quantitative","scale":{"domain":[8.06,105],"range":[440.7,324.3],"nice":false,"zero":false},"axis":{"orient":"left","offset":-360,"ticks":true,"tickSize":2,"tickColor":"#888888","values":[20,40,60,80],"labelAngle":-90,"labelAlign":"center","labelBaseline":"bottom","labelFont":"Liberation Sans","labelFontSize":9.5,"labelColor":"#444444","labelPadding":2,"title":"Age","titleFontSize":11,"titleFontWeight":"bold","titleColor":"#222222","titleAngle":-90,"titleX":-23.3,"titleY":367,"titleAlign":"center","titleBaseline":"middle","titleAnchor":"middle"}},
"detail":{"field":"study"},
"color":{"field":"group","type":"nominal","scale":{"domain":["Diseased","Controls"],"range":["#ffa500","#00f000"]},"legend":null}}},
{"data":{"values":[{"label":"P < 0.07","x":0.045,"age":98.3},{"label":"P < 1e-6","x":3.08,"age":98.3}]},"mark":{"type":"text","fontSize":11,"color":"#444444"},"encoding":{"x":{"field":"x","type":"quantitative","scale":{"domain":[-0.67,3.656],"range":[360,683],"nice":false,"zero":false}},"y":{"field":"age","type":"quantitative","scale":{"domain":[8.06,105],"range":[440.7,324.3],"nice":false,"zero":false}},"text":{"field":"label"}}}
]},
{"data":{"name":"frame"},"mark":{"type":"rect","fill":null,"stroke":"#aaaaaa","strokeWidth":1.5},"encoding":{"x":{"field":"a","type":"quantitative","scale":{"domain":[0,1],"range":[360,683],"nice":false},"axis":null},"x2":{"field":"b"},"y":{"field":"c","type":"quantitative","scale":{"domain":[0,1],"range":[440.7,324.3],"nice":false},"axis":null},"y2":{"field":"d"}}}
]}
